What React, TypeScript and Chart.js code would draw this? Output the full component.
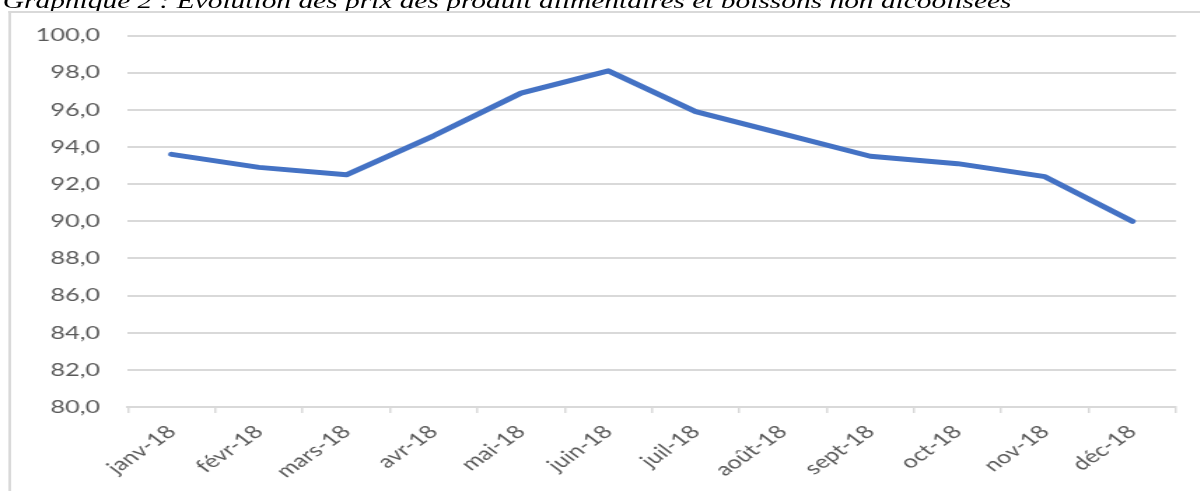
import React, { useEffect, useRef } from 'react';
import { Chart, registerables } from 'chart.js';

Chart.register(...registerables);

const TITLE = 'Graphique 2 : Evolution des prix des produit alimentaires et boissons non alcoolisées';
const categories = ['janv-18', 'févr-18', 'mars-18', 'avr-18', 'mai-18', 'juin-18', 'juil-18', 'août-18', 'sept-18', 'oct-18', 'nov-18', 'déc-18'];
const values = [93.6, 92.9, 92.5, 94.6, 96.9, 98.1, 95.9, 94.7, 93.5, 93.1, 92.4, 90.0];
const yMin = 80;
const yMax = 100;
const yStep = 2;

const K = 1.4; // horizontal stretch of the reference picture
const W = 1200 / K;
const H = 491;

export default function App() {
  const ref = useRef<HTMLCanvasElement | null>(null);

  useEffect(() => {
    if (!ref.current) return;
    const chart = new Chart(ref.current, {
      type: 'line',
      data: {
        labels: categories,
        datasets: [
          {
            data: values,
            borderColor: '#4472C4',
            borderWidth: 5,
            pointRadius: 0,
            pointHoverRadius: 0,
            tension: 0,
            borderCapStyle: 'round',
            borderJoinStyle: 'round',
            fill: false,
          },
        ],
      },
      options: {
        animation: false,
        responsive: true,
        maintainAspectRatio: false,
        layout: { padding: { top: 35.5, right: W - 1176 / K, left: 0, bottom: 0 } },
        plugins: { legend: { display: false }, tooltip: { enabled: false }, title: { display: false } },
        scales: {
          x: {
            type: 'category',
            offset: true,
            grid: {
              offset: true,
              drawOnChartArea: false,
              drawTicks: true,
              tickLength: 6,
              color: '#d9d9d9',
              lineWidth: 1.5,
            },
            border: { display: true, color: '#d9d9d9', width: 2 },
            ticks: {
              color: '#595959',
              font: { family: 'Lato, "Open Sans", sans-serif', size: 18 },
              minRotation: 44,
              maxRotation: 44,
              autoSkip: false,
              padding: 8,
            },
            afterFit: (scale: any) => {
              scale.height = H - 407;
            },
          },
          y: {
            min: yMin,
            max: yMax,
            grid: { color: '#d9d9d9', lineWidth: 2, drawTicks: false },
            border: { display: false },
            ticks: {
              stepSize: yStep,
              color: '#595959',
              font: { family: 'Lato, "Open Sans", sans-serif', size: 18 },
              padding: 20,
              callback: (v: any) => Number(v).toFixed(1).replace('.', ','),
            },
            afterFit: (scale: any) => {
              scale.width = 128 / K;
            },
          },
        },
      },
    });
    return () => chart.destroy();
  }, []);

  return (
    <div style={{ position: 'absolute', left: 0, top: 0, width: 1200, height: H, overflow: 'hidden', background: '#fff' }}>
      <div style={{ position: 'absolute', left: 0, top: 0, width: W, height: H, transform: `scaleX(${K})`, transformOrigin: '0 0' }}>
        <div
          style={{
            position: 'absolute',
            left: 2,
            top: -9.5,
            whiteSpace: 'nowrap',
            fontFamily: '"Liberation Serif", "Times New Roman", serif',
            fontStyle: 'italic',
            fontSize: 21,
            lineHeight: '21px',
            color: '#000',
          }}
        >
          {TITLE}
        </div>
        <div
          style={{
            position: 'absolute',
            left: 5.5,
            top: 10.5,
            width: W,
            height: H,
            borderTop: '2.5px solid #d9d9d9',
            borderLeft: '2.5px solid #d9d9d9',
            boxSizing: 'border-box',
          }}
        />
        <div style={{ position: 'absolute', left: 0, top: 0, width: W, height: H }}>
          <canvas ref={ref} />
        </div>
      </div>
    </div>
  );
}
